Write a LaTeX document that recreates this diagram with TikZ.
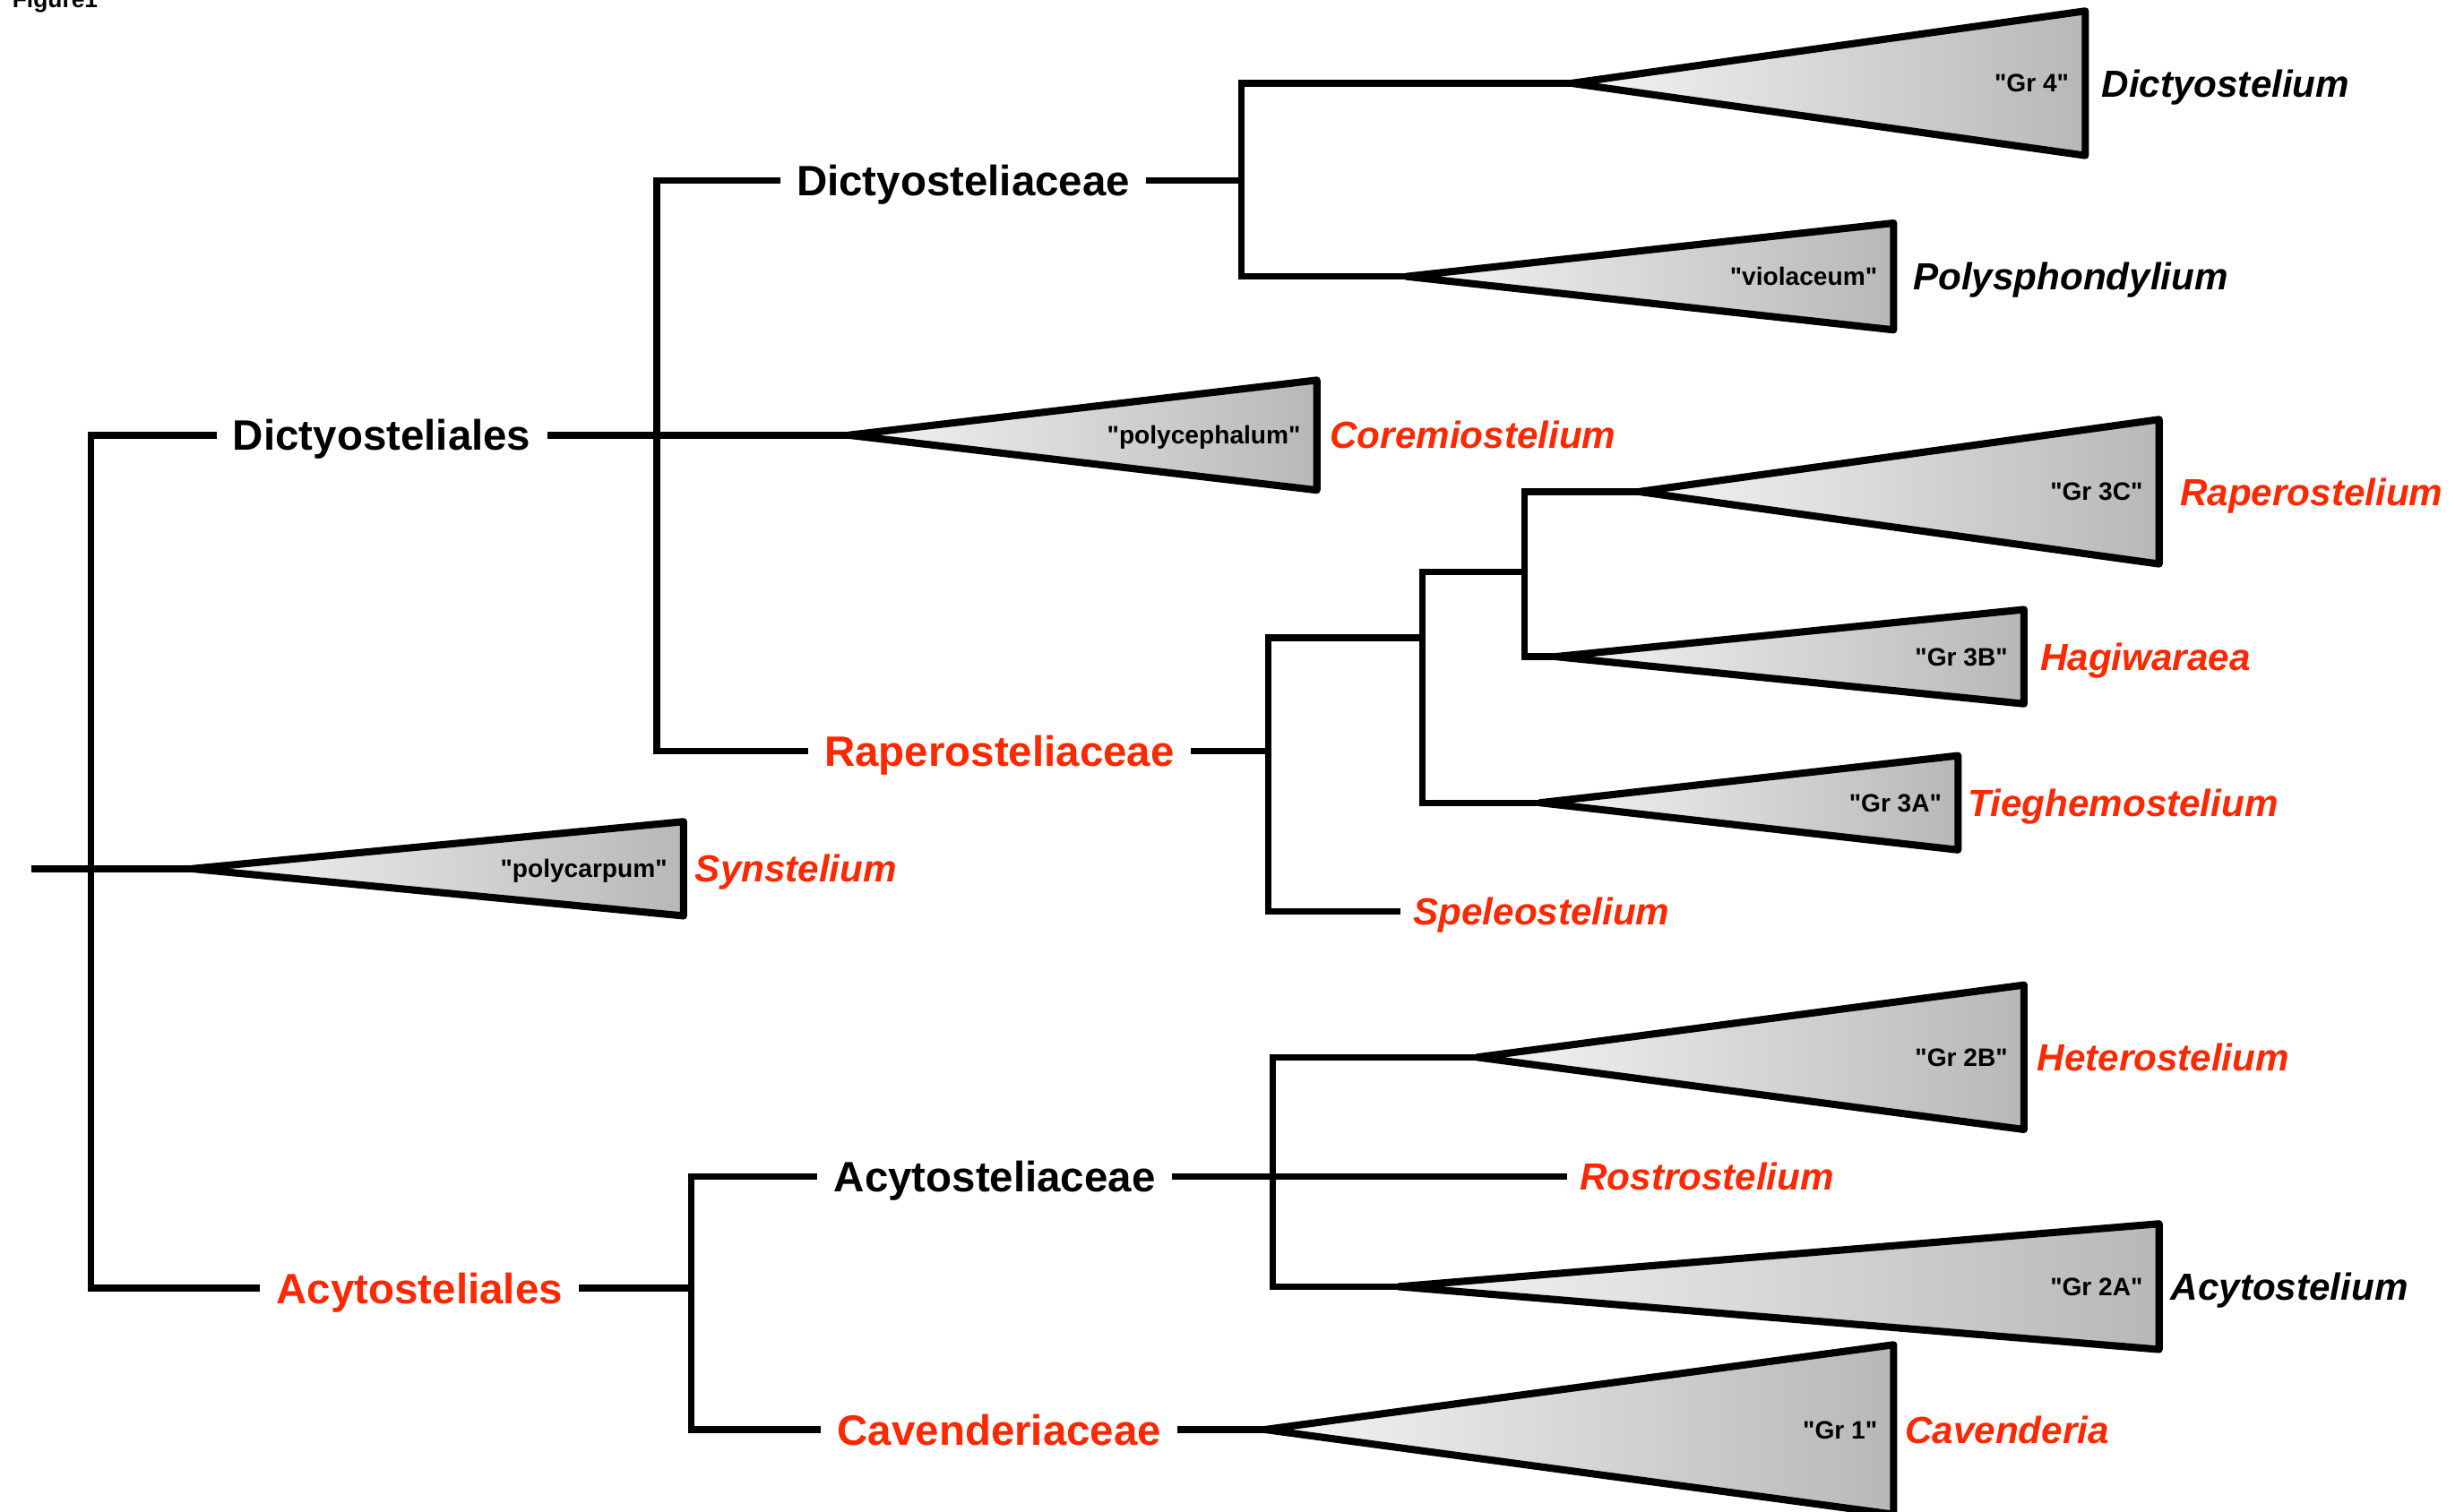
\documentclass[tikz,border=0pt]{standalone}
\usepackage{fontspec}
\setmainfont{Liberation Sans}
\definecolor{cladered}{RGB}{255,40,0}
\newcommand{\grpname}[1]{\textquotedbl#1\textquotedbl}

\tikzset{
    branch/.style={line width=2.1pt},
    family/.style={font=\bfseries\fontsize{13.5}{16}\selectfont, text height=9.7pt, text depth=0pt, inner xsep=5pt, inner ysep=0pt},
    genus/.style={font=\bfseries\itshape\fontsize{12}{14}\selectfont, text height=8.6pt, text depth=0pt, inner sep=0pt, anchor=west},
    grp/.style={font=\bfseries\fontsize{8}{10}\selectfont, text height=5.7pt, text depth=0pt, inner sep=0pt, anchor=east},
    clade/.style={line width=2.3pt, line join=round, left color=black!4, right color=black!28},
}

\begin{document}
\begin{tikzpicture}[x=0.017538cm, y=-0.017538cm]
    \useasboundingbox (0,0) rectangle (1568,962);
    \node[anchor=base west, inner sep=0pt, font=\bfseries\fontsize{7.5}{9}\selectfont] (figlabel) at (7.5,4.8) {Figure1};

    % collapsed clades: apex x/y, right edge x, half height
    \foreach \nm/\ax/\ay/\bx/\h/\grp/\gen/\gap/\col in {g4/1000/53/1327/46/Gr 4/Dictyostelium/10/black,
        viol/895/176/1205/34/violaceum/Polysphondylium/12/black,
        poly/540/277/838/35/polycephalum/Coremiostelium/8/cladered,
        g3c/1043/313/1374/46/Gr 3C/Raperostelium/13/cladered,
        g3b/990/418/1288/30/Gr 3B/Hagiwaraea/10/cladered,
        g3a/980/511/1246/30/Gr 3A/Tieghemostelium/6/cladered,
        syn/122/553/435/30/polycarpum/Synstelium/7/cladered,
        g2b/940/673/1288/46/Gr 2B/Heterostelium/8/cladered,
        g2a/890/819/1374/40/Gr 2A/Acytostelium/7/black,
        g1/805/910/1205/54/Gr 1/Cavenderia/7/cladered}
    {
        \coordinate (\nm) at (\ax,\ay);
        \draw[clade] (\nm) -- ({\bx},{\ay-\h}) -- ({\bx},{\ay+\h}) -- cycle;
        \node[grp] (\nm-grp) at ({\bx-10},{\ay}) {\grpname{\grp}};
        \node[genus, text=\col] (\nm-gen) at ({\bx+\gap},{\ay}) {\gen};
    }

    \node[family] (dales) at (243,277) {Dictyosteliales};
    \node[family] (dceae) at (613,115) {Dictyosteliaceae};
    \node[family, text=cladered] (rceae) at (636,478) {Raperosteliaceae};
    \node[family, text=cladered] (aales) at (267,820) {Acytosteliales};
    \node[family] (aceae) at (633,749) {Acytosteliaceae};
    \node[family, text=cladered] (cceae) at (636,910) {Cavenderiaceae};
    \node[genus, text=cladered, inner xsep=4pt] (speleo) at (891,580) {Speleostelium};
    \node[genus, text=cladered, inner xsep=4pt] (rostro) at (997,749) {Rostrostelium};

    \coordinate (root) at (20,553);
    \coordinate (rootJ) at (58,553);
    \coordinate (dJ) at (418,277);
    \coordinate (ddJ) at (790,115);
    \coordinate (rJ) at (807,478);
    \coordinate (r2) at (905,406);
    \coordinate (r3) at (970,364);
    \coordinate (aJ) at (440,820);
    \coordinate (acJ) at (810,749);

    \draw[branch] (root) -- (syn);
    \draw[branch] (dales.west) -| (rootJ) |- (aales.west);
    \draw[branch] (dales.east) -- (dJ) -- (poly);
    \draw[branch] (dceae.west) -| (dJ) |- (rceae.west);
    \draw[branch] (dceae.east) -- (ddJ);
    \draw[branch] (g4) -| (ddJ) |- (viol);
    \draw[branch] (rceae.east) -- (rJ);
    \draw[branch] (r2) -| (rJ) |- (speleo.west);
    \draw[branch] (r3) -| (r2) |- (g3a);
    \draw[branch] (g3c) -| (r3) |- (g3b);
    \draw[branch] (aales.east) -- (aJ);
    \draw[branch] (aceae.west) -| (aJ) |- (cceae.west);
    \draw[branch] (aceae.east) -- (acJ) -- (rostro.west);
    \draw[branch] (g2b) -| (acJ) |- (g2a);
    \draw[branch] (cceae.east) -- (g1);
\end{tikzpicture}
\end{document}
